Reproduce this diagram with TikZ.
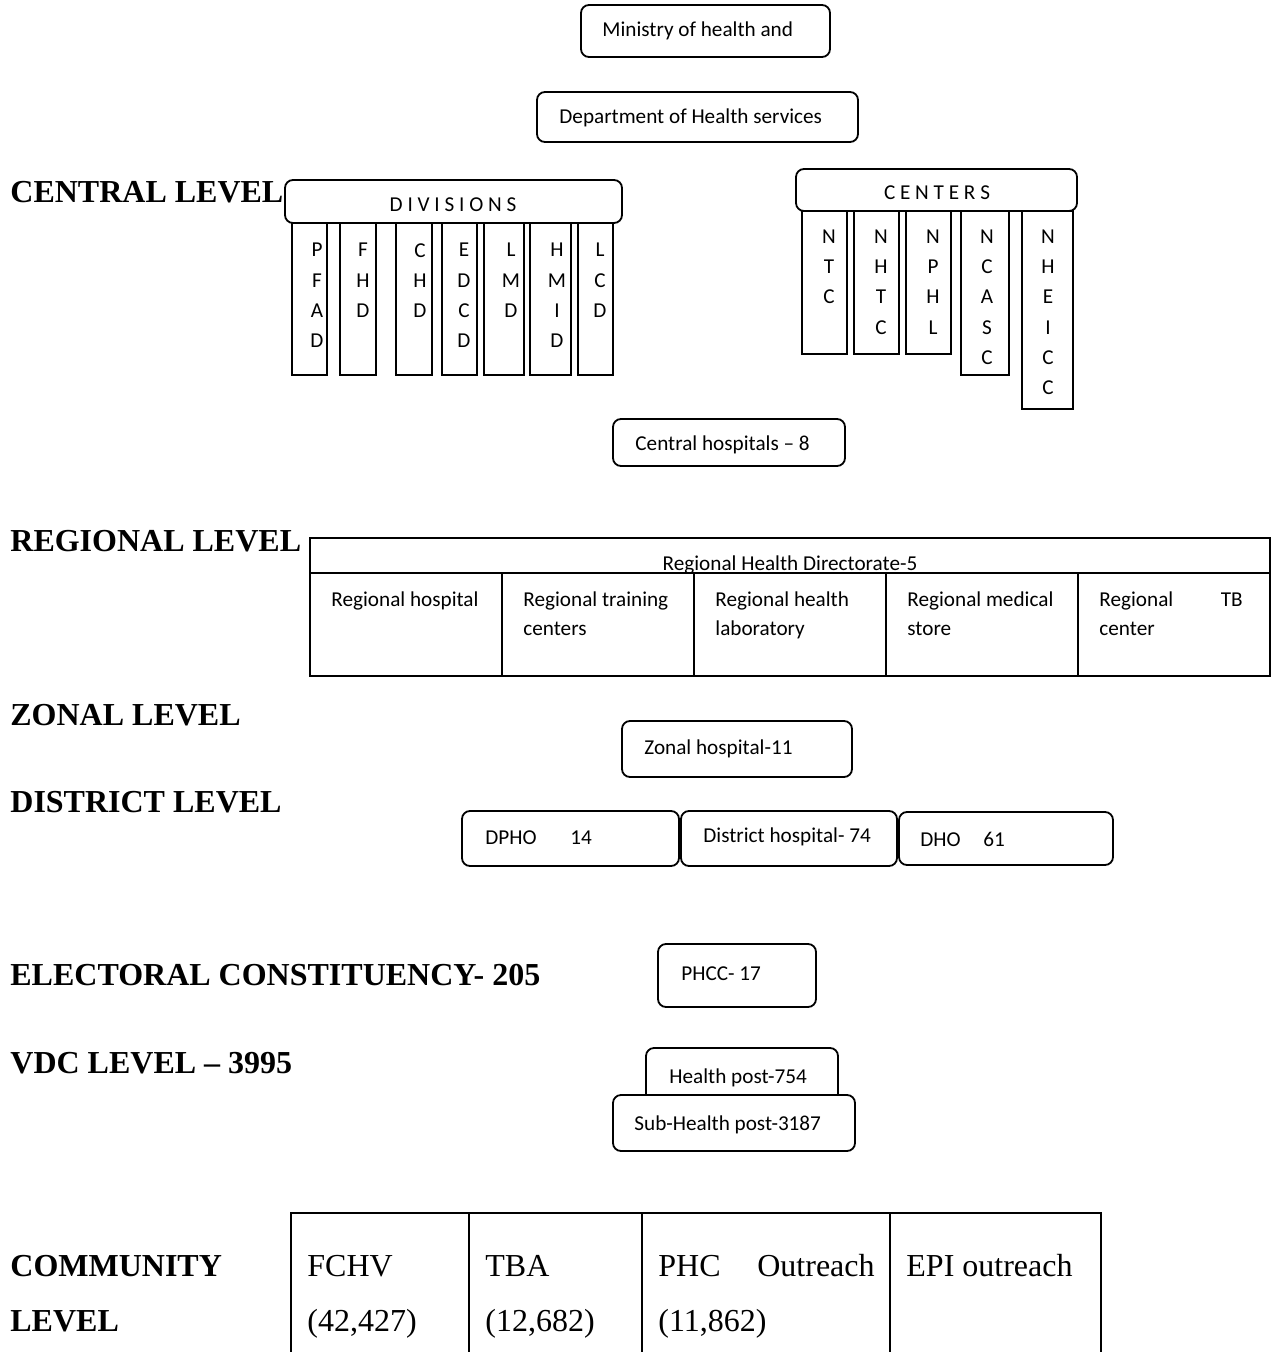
\documentclass[tikz,border=0pt]{standalone}
\usepackage{fontspec}
\setmainfont{Carlito}
\newfontfamily\timesfont{Liberation Serif}
\usetikzlibrary{fit}

\begin{document}
\begin{tikzpicture}[x=0.5pt, y=-0.5pt,
			box/.style = {draw, line width=0.9pt, rounded corners=4pt, inner sep=0pt, fill=white},
			cell/.style = {draw, line width=0.9pt, inner sep=0pt},
			txt/.style = {inner sep=0pt, anchor=base west, font=\fontsize{10.6}{15}\selectfont},
			vtxt/.style = {inner sep=0pt, anchor=north, align=center, font=\fontsize{10.6}{15}\selectfont},
			level/.style = {inner sep=0pt, anchor=west, font=\timesfont\bfseries\fontsize{16}{20}\selectfont},
			ctxt/.style = {inner sep=0pt, anchor=base west, font=\timesfont\fontsize{16}{20}\selectfont},
		]
		\clip (0,0) rectangle (1275,1352);

		% level labels
		\node[level] (central) at (10,192) {CENTRAL LEVEL};
		\node[level] (regional) at (10,541) {REGIONAL LEVEL};
		\node[level] (zonal) at (10,715) {ZONAL LEVEL};
		\node[level] (district) at (10,802) {DISTRICT LEVEL};
		\node[level] (electoral) at (10,975) {ELECTORAL CONSTITUENCY- 205};
		\node[level] (vdc) at (10,1063) {VDC LEVEL – 3995};

		% central level
		\node[box, fit={(581,5) (830,57)}] (ministry) {};
		\node[txt] (ministryt) at (602,37) {Ministry of health and};
		\node[box, fit={(537,92) (858,142)}] (dohs) {};
		\node[txt] (dohst) at (559,124) {Department of Health services};

		\foreach \xa/\xb/\lx/\txt [count=\i] in {292/327/317/{P\\F\\A\\D}, 340/376/363/{F\\H\\D}, 396/432/420/{C\\H\\D}, 442/477/464/{E\\D\\C\\D}, 484/524/511/{L\\M\\D}, 530/571/557/{H\\M\\I\\D}, 578/613/600/{L\\C\\D}}{
			\node[cell, fit={(\xa,223) (\xb,375)}] (div\i) {};
			\node[vtxt] (divt\i) at (\lx,243) {\txt};
		}
		\node[box, fit={(285,180) (622,223)}] (divisions) {};
		\node[txt, anchor=base] (divisionst) at (453,212) {D I V I S I O N S};

		\foreach \xa/\xb/\yb/\lx/\txt [count=\i] in {802/847/354/829/{N\\T\\C}, 854/899/354/881/{N\\H\\T\\C}, 906/951/354/933/{N\\P\\H\\L}, 961/1009/375/987/{N\\C\\A\\S\\C}, 1022/1073/409/1048/{N\\H\\E\\I\\C\\C}}{
			\node[cell, fit={(\xa,211) (\xb,\yb)}] (cen\i) {};
			\node[vtxt] (cent\i) at (\lx,230) {\txt};
		}
		\node[box, fit={(796,169) (1077,211)}] (centers) {};
		\node[txt, anchor=base] (centerst) at (937,200) {C E N T E R S};

		\node[box, fit={(613,419) (845,466)}] (chosp) {};
		\node[txt] (chospt) at (635,451) {Central hospitals – 8};

		% regional level
		\node[cell, fit={(310,538) (1270,573)}] (rhd) {};
		\node[txt, anchor=base] (rhdt) at (790,570) {Regional Health Directorate-5};
		\foreach \xa/\xb/\la/\lb [count=\i] in {310/502/{Regional hospital}/{}, 502/694/{Regional training}/{centers}, 694/886/{Regional health}/{laboratory}, 886/1078/{Regional medical}/{store}, 1078/1270/{Regional}/{center}}{
			\node[cell, fit={(\xa,573) (\xb,676)}] (reg\i) {};
			\node[txt] (rega\i) at (\xa+21,606) {\la};
			\node[txt] (regb\i) at (\xa+21,635) {\lb};
		}
		\node[txt, anchor=base east] (regtb) at (1243,606) {TB};

		% zonal and district level
		\node[box, fit={(622,721) (852,777)}] (zonal) {};
		\node[txt] (zonalt) at (644,754) {Zonal hospital-11};
		\node[box, fit={(462,811) (679,866)}] (dpho) {};
		\node[txt] (dphot) at (485,844) {DPHO};
		\node[txt] (dphon) at (570,844) {14};
		\node[box, fit={(681,811) (897,866)}] (dhosp) {};
		\node[txt] (dhospt) at (703,842) {District hospital- 74};
		\node[box, fit={(899,812) (1113,865)}] (dho) {};
		\node[txt] (dhot) at (920,846) {DHO};
		\node[txt] (dhon) at (983,846) {61};

		% constituency and vdc level
		\node[box, fit={(658,944) (816,1007)}] (phcc) {};
		\node[txt] (phcct) at (681,980) {PHCC- 17};
		\node[box, fit={(646,1048) (838,1105)}] (hp) {};
		\node[txt] (hpt) at (669,1083) {Health post-754};
		\node[box, fit={(613,1095) (855,1151)}] (shp) {};
		\node[txt] (shpt) at (634,1130) {Sub-Health post-3187};

		% community level
		\node[level, anchor=base west] (comm1) at (10,1276) {COMMUNITY};
		\node[level, anchor=base west] (comm2) at (10,1331) {LEVEL};
		\foreach \xa/\xb/\la/\lb [count=\i] in {291/469/{FCHV}/{(42,427)}, 469/642/{TBA}/{(12,682)}, 642/890/{PHC}/{(11,862)}, 890/1101/{EPI outreach}/{}}{
			\node[cell, fit={(\xa,1213) (\xb,1370)}] (com\i) {};
			\node[ctxt] (coma\i) at (\xa+16,1276) {\la};
			\node[ctxt] (comb\i) at (\xa+16,1331) {\lb};
		}
		\node[ctxt, anchor=base east] (comout) at (875,1276) {Outreach};

	\end{tikzpicture}
\end{document}
